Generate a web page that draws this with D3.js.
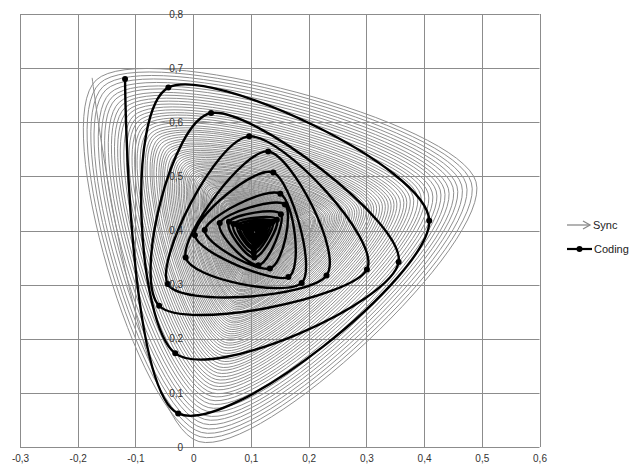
<!DOCTYPE html>
<html>
<head>
<meta charset="utf-8">
<script src="https://cdn.jsdelivr.net/npm/d3@7"></script>
<style>
  body { margin: 0; background: #fff; }
  text { font-family: "Liberation Sans", Arial, sans-serif; }
</style>
</head>
<body>
<div id="chart"></div>
<script>
// axis ticks
const xTicks = [-0.3, -0.2, -0.1, 0, 0.1, 0.2, 0.3, 0.4, 0.5, 0.6];
const yTicks = [0, 0.1, 0.2, 0.3, 0.4, 0.5, 0.6, 0.7, 0.8];

// Sync: start point, then bottom / right / top-left corner of every turn
const syncStart = [-0.175, 0.682];
const syncBottom = [
  [0.010,0.010],[0.012,0.019],[0.014,0.027],[0.016,0.035],[0.018,0.043],[0.020,0.051],[0.022,0.058],[0.024,0.066],[0.026,0.073],[0.028,0.080],
  [0.029,0.087],[0.031,0.094],[0.033,0.100],[0.034,0.107],[0.036,0.113],[0.038,0.119],[0.039,0.125],[0.041,0.131],[0.042,0.137],[0.043,0.143],
  [0.045,0.148],[0.046,0.154],[0.048,0.159],[0.049,0.164],[0.050,0.169],[0.051,0.174],[0.053,0.179],[0.054,0.184],[0.055,0.189],[0.056,0.193],
  [0.057,0.198],[0.058,0.202],[0.059,0.206],[0.060,0.210],[0.061,0.214],[0.062,0.218],[0.063,0.222],[0.064,0.226],[0.065,0.230],[0.066,0.233],
  [0.067,0.237],[0.068,0.240],[0.069,0.244],[0.070,0.247],[0.071,0.250],[0.071,0.254],[0.072,0.257],[0.073,0.260],[0.074,0.263],[0.074,0.266],
  [0.075,0.268],[0.076,0.271],[0.077,0.274],[0.077,0.277],[0.078,0.279],[0.079,0.282],[0.079,0.284],[0.080,0.287],[0.080,0.289],[0.081,0.291],
  [0.081,0.294],[0.082,0.296],[0.083,0.298],[0.083,0.300],[0.084,0.302],[0.084,0.304],[0.085,0.306],[0.085,0.308],[0.086,0.310],[0.086,0.312],
  [0.087,0.314],[0.087,0.316],[0.088,0.318],[0.088,0.319],[0.088,0.321],[0.089,0.322],[0.089,0.324],[0.090,0.326],[0.090,0.327],[0.090,0.329],
  [0.091,0.330],[0.091,0.332],[0.091,0.333],[0.092,0.334],[0.092,0.336],[0.092,0.337],[0.093,0.338],[0.093,0.340],[0.093,0.341],[0.094,0.342],
  [0.094,0.343],[0.094,0.344],[0.094,0.345],[0.095,0.346],[0.095,0.348],[0.095,0.349],[0.096,0.350],[0.096,0.351],[0.096,0.352],[0.096,0.353],
  [0.097,0.353],[0.097,0.354],[0.097,0.355],[0.097,0.356],[0.097,0.357],[0.098,0.358],[0.098,0.359],[0.098,0.359],[0.098,0.360],[0.098,0.361],
  [0.099,0.362],[0.099,0.362],[0.099,0.363],[0.099,0.364],[0.099,0.365],[0.100,0.365],[0.100,0.366],[0.100,0.367],[0.100,0.367],[0.100,0.368],
  [0.100,0.368],[0.100,0.369],[0.101,0.370],[0.101,0.370],[0.101,0.371],[0.101,0.371],[0.101,0.372],[0.101,0.372],[0.101,0.373],[0.102,0.373]
];
const syncRight = [
  [0.490,0.490],[0.482,0.488],[0.473,0.486],[0.465,0.484],[0.457,0.482],[0.450,0.480],[0.442,0.478],[0.435,0.476],[0.428,0.475],[0.421,0.473],
  [0.414,0.471],[0.407,0.469],[0.400,0.468],[0.394,0.466],[0.388,0.465],[0.381,0.463],[0.375,0.462],[0.369,0.460],[0.364,0.459],[0.358,0.457],
  [0.352,0.456],[0.347,0.455],[0.342,0.453],[0.337,0.452],[0.332,0.451],[0.327,0.450],[0.322,0.448],[0.317,0.447],[0.312,0.446],[0.308,0.445],
  [0.304,0.444],[0.299,0.443],[0.295,0.442],[0.291,0.441],[0.287,0.440],[0.283,0.439],[0.279,0.438],[0.275,0.437],[0.271,0.436],[0.268,0.435],
  [0.264,0.434],[0.261,0.433],[0.257,0.432],[0.254,0.432],[0.251,0.431],[0.248,0.430],[0.245,0.429],[0.242,0.428],[0.239,0.428],[0.236,0.427],
  [0.233,0.426],[0.230,0.426],[0.227,0.425],[0.225,0.424],[0.222,0.424],[0.220,0.423],[0.217,0.422],[0.215,0.422],[0.212,0.421],[0.210,0.421],
  [0.208,0.420],[0.206,0.419],[0.203,0.419],[0.201,0.418],[0.199,0.418],[0.197,0.417],[0.195,0.417],[0.193,0.416],[0.191,0.416],[0.190,0.416],
  [0.188,0.415],[0.186,0.415],[0.184,0.414],[0.183,0.414],[0.181,0.413],[0.179,0.413],[0.178,0.413],[0.176,0.412],[0.175,0.412],[0.173,0.411],
  [0.172,0.411],[0.170,0.411],[0.169,0.410],[0.167,0.410],[0.166,0.410],[0.165,0.409],[0.164,0.409],[0.162,0.409],[0.161,0.408],[0.160,0.408],
  [0.159,0.408],[0.158,0.408],[0.156,0.407],[0.155,0.407],[0.154,0.407],[0.153,0.406],[0.152,0.406],[0.151,0.406],[0.150,0.406],[0.149,0.405],
  [0.148,0.405],[0.147,0.405],[0.147,0.405],[0.146,0.405],[0.145,0.404],[0.144,0.404],[0.143,0.404],[0.142,0.404],[0.142,0.404],[0.141,0.403],
  [0.140,0.403],[0.139,0.403],[0.139,0.403],[0.138,0.403],[0.137,0.402],[0.137,0.402],[0.136,0.402],[0.135,0.402],[0.135,0.402],[0.134,0.402],
  [0.134,0.402],[0.133,0.401],[0.132,0.401],[0.132,0.401],[0.131,0.401],[0.131,0.401],[0.130,0.401],[0.130,0.401],[0.129,0.401],[0.129,0.400]
];
const syncTop = [
  [-0.168,0.678],[-0.162,0.672],[-0.156,0.666],[-0.151,0.660],[-0.144,0.654],[-0.139,0.648],[-0.134,0.643],[-0.128,0.637],[-0.123,0.632],[-0.118,0.627],
  [-0.113,0.622],[-0.109,0.617],[-0.103,0.612],[-0.099,0.607],[-0.095,0.602],[-0.090,0.598],[-0.086,0.593],[-0.082,0.589],[-0.077,0.585],[-0.073,0.580],
  [-0.069,0.576],[-0.066,0.572],[-0.061,0.569],[-0.058,0.565],[-0.055,0.561],[-0.051,0.557],[-0.047,0.554],[-0.044,0.550],[-0.041,0.547],[-0.038,0.544],
  [-0.034,0.540],[-0.031,0.537],[-0.028,0.534],[-0.025,0.531],[-0.022,0.528],[-0.019,0.525],[-0.016,0.522],[-0.014,0.519],[-0.011,0.516],[-0.008,0.514],
  [-0.006,0.511],[-0.003,0.509],[-0.001,0.506],[0.001,0.504],[0.003,0.501],[0.006,0.499],[0.008,0.497],[0.010,0.494],[0.012,0.492],[0.014,0.490],
  [0.016,0.488],[0.019,0.486],[0.021,0.484],[0.023,0.482],[0.024,0.480],[0.026,0.478],[0.028,0.476],[0.029,0.475],[0.031,0.473],[0.033,0.471],
  [0.035,0.469],[0.036,0.468],[0.038,0.466],[0.039,0.465],[0.041,0.463],[0.042,0.462],[0.043,0.460],[0.045,0.459],[0.047,0.457],[0.048,0.456],
  [0.049,0.455],[0.051,0.453],[0.052,0.452],[0.053,0.451],[0.054,0.450],[0.055,0.448],[0.056,0.447],[0.057,0.446],[0.058,0.445],[0.060,0.444],
  [0.061,0.443],[0.062,0.442],[0.063,0.441],[0.064,0.440],[0.065,0.439],[0.066,0.438],[0.066,0.437],[0.067,0.436],[0.068,0.435],[0.069,0.434],
  [0.070,0.433],[0.071,0.432],[0.072,0.432],[0.072,0.431],[0.073,0.430],[0.074,0.429],[0.075,0.428],[0.075,0.428],[0.076,0.427],[0.077,0.426],
  [0.077,0.426],[0.078,0.425],[0.079,0.424],[0.079,0.424],[0.080,0.423],[0.080,0.422],[0.081,0.422],[0.082,0.421],[0.082,0.421],[0.083,0.420],
  [0.083,0.420],[0.084,0.419],[0.084,0.418],[0.085,0.418],[0.085,0.417],[0.086,0.417],[0.086,0.416],[0.087,0.416],[0.087,0.415],[0.088,0.415],
  [0.088,0.415],[0.088,0.414],[0.089,0.414],[0.089,0.413],[0.090,0.413],[0.090,0.413],[0.090,0.412],[0.091,0.412],[0.091,0.411],[0.091,0.411]
];

// Coding: sampled points (dots), in order
const codingX = [-0.118,-0.026,0.409,-0.043,-0.031,0.356,0.031,-0.059,0.301,0.097,
                 -0.044,0.231,0.130,-0.013,0.188,0.139,0.003,0.165,0.151,0.020,
                 0.133,0.159,0.046,0.113,0.152,0.062,0.106,0.145,0.070,0.105,
                 0.138,0.077,0.105,0.133,0.082,0.105,0.128,0.087,0.106,0.124,
                 0.090,0.106,0.121,0.093,0.106,0.119,0.096,0.107,0.117,0.098,
                 0.107,0.115,0.100,0.107,0.113,0.101,0.107,0.112];
const codingY = [0.680,0.062,0.418,0.664,0.173,0.342,0.617,0.261,0.328,0.574,
                 0.301,0.317,0.546,0.350,0.303,0.507,0.391,0.314,0.468,0.401,
                 0.330,0.448,0.414,0.336,0.430,0.416,0.350,0.420,0.412,0.358,
                 0.416,0.410,0.365,0.413,0.407,0.370,0.410,0.405,0.375,0.407,
                 0.404,0.379,0.405,0.402,0.382,0.404,0.401,0.385,0.402,0.400,
                 0.387,0.401,0.399,0.389,0.400,0.399,0.391,0.399];

const seriesNames = ["Sync", "Coding"];

const width = 641, height = 466;
const svg = d3.select("#chart").append("svg")
  .attr("width", width)
  .attr("height", height);

const x = d3.scaleLinear().domain([-0.3, 0.6]).range([20, 539.5]);
const y = d3.scaleLinear().domain([0, 0.8]).range([447, 14]);

const fmt = v => v === 0 ? "0" : d3.format(".1f")(v).replace("−", "-").replace(".", ",");

// gridlines
const grid = svg.append("g").attr("stroke", "#8c8c8c").attr("stroke-width", 1);
grid.selectAll("line.gx").data(xTicks).join("line")
  .attr("class", "gx")
  .attr("x1", d => Math.round(x(d)) + 0.5).attr("x2", d => Math.round(x(d)) + 0.5)
  .attr("y1", y(0.8)).attr("y2", y(0));
grid.selectAll("line.gy").data(yTicks).join("line")
  .attr("class", "gy")
  .attr("x1", x(-0.3)).attr("x2", x(0.6))
  .attr("y1", d => Math.round(y(d)) + 0.5).attr("y2", d => Math.round(y(d)) + 0.5);

// build the sync path
const syncPts = [syncStart];
syncBottom.forEach((b, i) => {
  syncPts.push(b, syncRight[i], syncTop[i]);
});

const line = d3.line()
  .x(d => x(d[0]))
  .y(d => y(d[1]))
  .curve(d3.curveCatmullRom.alpha(0));

svg.append("path")
  .datum(syncPts)
  .attr("d", line)
  .attr("fill", "none")
  .attr("stroke", "#8f8f8f")
  .attr("stroke-width", 1);

const codingPts = codingX.map((v, i) => [v, codingY[i]]);

svg.append("path")
  .datum(codingPts)
  .attr("d", line)
  .attr("fill", "none")
  .attr("stroke", "#000")
  .attr("stroke-width", 2.4);

svg.selectAll("circle.dot").data(codingPts).join("circle")
  .attr("class", "dot")
  .attr("cx", d => x(d[0]))
  .attr("cy", d => y(d[1]))
  .attr("r", 3)
  .attr("fill", "#000");

// axis labels
svg.append("g")
  .attr("transform", `translate(0,${y(0)})`)
  .call(d3.axisBottom(x).tickValues(xTicks).tickSize(0).tickPadding(8).tickFormat(fmt))
  .call(g => g.select(".domain").remove())
  .selectAll("text").attr("font-size", 10).attr("fill", "#333")
  .attr("font-family", "Liberation Sans, Arial, sans-serif");

svg.append("g")
  .attr("transform", `translate(${x(0)},0)`)
  .call(d3.axisLeft(y).tickValues(yTicks).tickSize(0).tickPadding(10).tickFormat(fmt))
  .call(g => g.select(".domain").remove())
  .selectAll("text").attr("font-size", 10).attr("fill", "#333")
  .attr("font-family", "Liberation Sans, Arial, sans-serif");

// legend
const leg = svg.append("g").attr("transform", "translate(567,225)");
leg.append("line").attr("x1", 0).attr("x2", 23).attr("y1", 0).attr("y2", 0)
  .attr("stroke", "#8a8a8a").attr("stroke-width", 1.3);
leg.append("path").attr("d", "M16,-4L23,0L16,4")
  .attr("fill", "none").attr("stroke", "#8a8a8a").attr("stroke-width", 1.3);
leg.append("text").attr("x", 26).attr("y", 4).text(seriesNames[0])
  .attr("font-size", 11).attr("font-family", "Open Sans, sans-serif").attr("fill", "#222");

leg.append("line").attr("x1", 0).attr("x2", 25).attr("y1", 24).attr("y2", 24)
  .attr("stroke", "#000").attr("stroke-width", 2.2);
leg.append("circle").attr("cx", 12.5).attr("cy", 24).attr("r", 3).attr("fill", "#000");
leg.append("text").attr("x", 27).attr("y", 28).text(seriesNames[1])
  .attr("font-size", 11).attr("font-family", "Open Sans, sans-serif").attr("fill", "#222");
</script>
</body>
</html>
